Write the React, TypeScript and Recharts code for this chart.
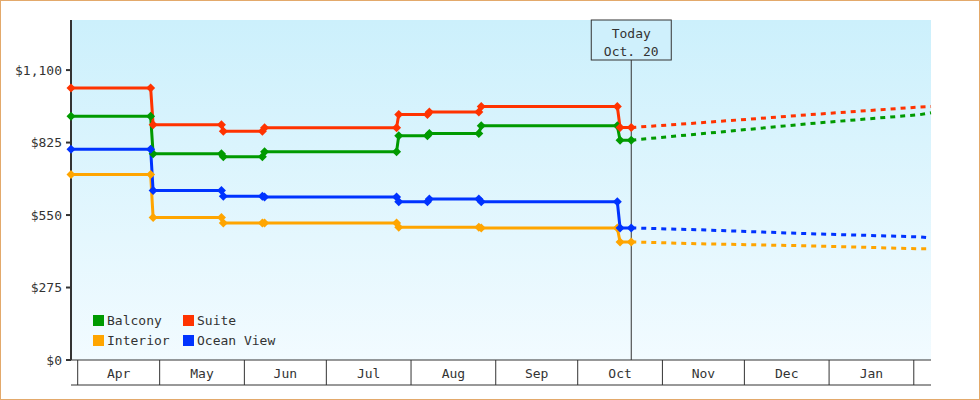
import React from "react";
import {
  LineChart,
  Line,
  XAxis,
  YAxis,
  CartesianGrid,
  ReferenceLine,
  Legend,
} from "recharts";

const font = "'DejaVu Sans Mono', monospace";

// x values are days counted from Apr 1
const dayMin = -2.45;
const dayMax = 312.3;
const todayDay = 202.6;

const monthStarts = [0, 30, 61, 91, 122, 153, 183, 214, 244, 275, 306];
const monthLabels = ["Apr", "May", "Jun", "Jul", "Aug", "Sep", "Oct", "Nov", "Dec", "Jan"];
const priceTicks = [0, 275, 550, 825, 1100];

const seriesNames = ["Balcony", "Suite", "Interior", "Ocean View"];
const seriesColors = ["#009a00", "#ff3300", "#ffa500", "#0033ff"];

// recorded prices
const pastDays = [-2.45, 26.7, 27.6, 52.6, 53.3, 67.6, 68.4, 116.7, 117.5, 128, 128.7, 146.8, 147.7, 197.5, 198.5, 202.6];
const balcony = [925, 925, 783, 783, 771, 771, 790, 790, 851, 851, 859, 859, 889, 889, 834, 834];
const suite = [1032, 1032, 893, 893, 868, 868, 881, 881, 931, 931, 941, 941, 962, 962, 882, 882];
const interior = [704, 704, 541, 541, 520, 520, 520, 520, 504, null, null, 504, 501, 501, 448, 448];
const oceanView = [800, 800, 643, 643, 621, 621, 618, 618, 600, 600, 611, 611, 600, 600, 501, 501];

// forecast
const forecastDays = [202.6, 227.8, 268.1, 308.3, 312.3];
const balconyForecast = [834, 858, 897, 931, 938];
const suiteForecast = [882, 900, 931, 960, 962];
const interiorForecast = [448, 441, 433, 422, 422];
const oceanViewForecast = [501, 494, 479, 467, 463];

const toPoints = (days: number[], values: (number | null)[]) =>
  days.map((d, i) => ({ day: d, price: values[i] }));

const pastSeries = [balcony, suite, interior, oceanView].map((v) => toPoints(pastDays, v));
const forecastSeries = [balconyForecast, suiteForecast, interiorForecast, oceanViewForecast].map((v) =>
  toPoints(forecastDays, v)
);

const monthMids = monthLabels.map((_, i) => (monthStarts[i] + monthStarts[i + 1]) / 2);
const monthTicks = [...monthStarts, ...monthMids];

const money = (v: number) => "$" + v.toLocaleString("en-US");

const diamond = (color: string) => (props: any) => {
  const { cx, cy, index } = props;
  if (cx == null || cy == null || props.value == null) return <g key={"d" + index} />;
  return (
    <path
      key={"d" + index}
      d={`M${cx},${cy - 4.5}L${cx + 4.5},${cy}L${cx},${cy + 4.5}L${cx - 4.5},${cy}Z`}
      fill={color}
    />
  );
};

const MonthTick = (props: any) => {
  const { x, y, payload } = props;
  const b = monthStarts.indexOf(payload.value);
  if (b >= 0) return <line x1={x} x2={x} y1={y} y2={y + 25} stroke="#333" />;
  const m = monthMids.indexOf(payload.value);
  return (
    <text x={x} y={y + 13} dy="0.355em" textAnchor="middle" fontFamily={font} fontSize={13} fill="#333">
      {monthLabels[m]}
    </text>
  );
};

const TodayLabel = (props: any) => {
  const { x, y } = props.viewBox;
  return (
    <g>
      <rect x={x - 40} y={y} width={80} height={40} fill="#cff0fc" stroke="#333" />
      <text x={x} y={y + 13} dy="0.355em" textAnchor="middle" fontFamily={font} fontSize={13} fill="#333">
        Today
      </text>
      <text x={x} y={y + 31} dy="0.355em" textAnchor="middle" fontFamily={font} fontSize={13} fill="#333">
        Oct. 20
      </text>
    </g>
  );
};

const LegendBox = () => (
  <div
    style={{
      display: "grid",
      gridTemplateColumns: "90px 110px",
      fontFamily: font,
      fontSize: 13,
      color: "#333",
      lineHeight: "19.5px",
    }}
  >
    {seriesNames.map((n, i) => (
      <div key={n} style={{ display: "flex", alignItems: "center", whiteSpace: "nowrap" }}>
        <span style={{ width: 11, height: 11, background: seriesColors[i], marginRight: 3 }} />
        {n}
      </div>
    ))}
  </div>
);

const App = () => (
  <div style={{ position: "absolute", left: 0, top: 0, width: 980, height: 400, background: "#fff" }}>
    <LineChart width={980} height={400} margin={{ top: 20, right: 49, bottom: 14, left: 0 }}>
      <defs>
        <linearGradient id="plotBg" x1="0" y1="0" x2="0" y2="1">
          <stop offset="0%" stopColor="#ccf0fc" />
          <stop offset="100%" stopColor="#f2fbff" />
        </linearGradient>
      </defs>
      <CartesianGrid fill="url(#plotBg)" horizontal={false} vertical={false} />
      <XAxis
        dataKey="day"
        type="number"
        domain={[dayMin, dayMax]}
        ticks={monthTicks}
        interval={0}
        height={25}
        tickSize={0}
        tickMargin={0}
        tickLine={false}
        axisLine={{ stroke: "#333" }}
        tick={<MonthTick />}
      />
      <XAxis
        xAxisId="frame"
        type="number"
        domain={[dayMin, dayMax]}
        height={1}
        tick={false}
        tickLine={false}
        axisLine={{ stroke: "#333" }}
      />
      <YAxis
        type="number"
        domain={[0, 1290]}
        ticks={priceTicks}
        width={71}
        tickFormatter={money}
        tickSize={5}
        tickMargin={4}
        axisLine={{ stroke: "#333", strokeWidth: 2 }}
        tickLine={{ stroke: "#333", strokeWidth: 2 }}
        tick={{ fill: "#333", fontSize: 13, fontFamily: font }}
      />
      <ReferenceLine x={todayDay} stroke="#333" strokeWidth={1} label={<TodayLabel />} />
      {forecastSeries.map((data, i) => (
        <Line
          key={"f" + i}
          data={data}
          dataKey="price"
          name={seriesNames[i] + " forecast"}
          legendType="none"
          stroke={seriesColors[i]}
          strokeWidth={3}
          strokeDasharray="5 5"
          dot={false}
          activeDot={false}
          isAnimationActive={false}
        />
      ))}
      {pastSeries.map((data, i) => (
        <Line
          key={"p" + i}
          data={data}
          dataKey="price"
          name={seriesNames[i]}
          stroke={seriesColors[i]}
          strokeWidth={3}
          connectNulls
          dot={diamond(seriesColors[i])}
          activeDot={false}
          isAnimationActive={false}
        />
      ))}
      <Legend
        layout="horizontal"
        align="center"
        verticalAlign="middle"
        wrapperStyle={{ left: 93, top: 311, width: 220, height: 40 }}
        content={() => <LegendBox />}
      />
    </LineChart>
    <div
      style={{
        position: "absolute",
        left: 0,
        top: 0,
        width: 980,
        height: 400,
        boxSizing: "border-box",
        border: "1px solid #e3a96b",
        pointerEvents: "none",
      }}
    />
  </div>
);

export default App;
